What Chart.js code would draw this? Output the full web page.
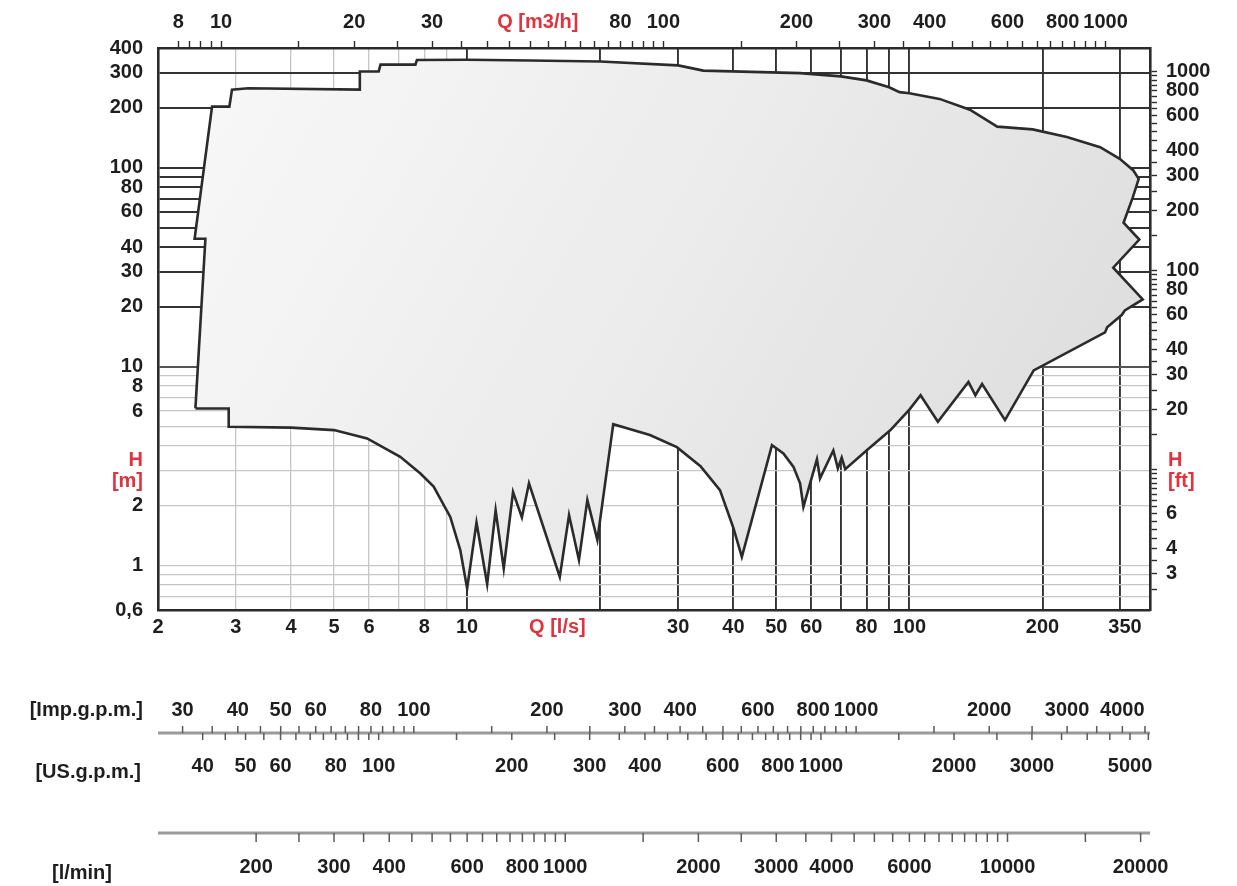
<!DOCTYPE html>
<html>
<head>
<meta charset="utf-8">
<script src="https://cdn.jsdelivr.net/npm/chart.js@4.4.1/dist/chart.umd.min.js"></script>
<style>
  html, body { margin:0; padding:0; background:#fff; }
</style>
</head>
<body>
<canvas id="c" width="1237" height="886"></canvas>
<script>
// envelope of the pump range, Q [l/s] / H [m], traced clockwise
const envQ = [2.43, 2.56, 2.42, 2.65, 2.90, 2.94, 3.20, 5.72, 5.72, 6.31, 6.37, 7.64, 7.70, 10.0, 13.9, 20.0, 30.0, 34.2,
  56.6, 70.0, 80.0, 90.0, 95.0, 100, 117, 137, 158, 190, 227, 270, 299, 321, 330, 320, 305, 331, 289, 337, 307, 302,
  280, 277, 191, 164.5, 146, 141, 136, 116, 106, 100, 90.5, 80, 71.6, 70.3, 68.9, 67.3, 62.8, 61.8, 57.6, 56.6, 54.7,
  51.9, 48.9, 41.8, 40, 37.3, 33.7, 29.8, 25.9, 21.4, 19.7, 18.7, 17.9, 17.0, 16.2, 13.8, 13.3, 12.7, 12.1, 11.6, 11.1,
  10.5, 10.0, 9.65, 9.16, 8.4, 7.84, 7.06, 5.94, 5.0, 4.0, 2.89, 2.89, 2.43];
const envH = [6.18, 44, 44, 203, 203, 247, 251, 247, 305, 305, 330, 330, 348, 349, 346, 342, 327, 308,
  299, 288, 275, 254, 240, 237, 222, 196, 161, 156, 143, 127, 111, 97, 88, 71, 53, 43.6, 31.5, 21.8, 19.2, 18.2,
  15.8, 14.9, 9.6, 5.4, 8.2, 7.2, 8.4, 5.3, 7.2, 6.1, 4.8, 3.8, 3.06, 3.5, 3.09, 3.8, 2.75, 3.43, 1.98, 2.6, 3.14,
  3.67, 4.04, 1.11, 1.55, 2.4, 3.17, 3.95, 4.54, 5.15, 1.35, 2.14, 1.07, 1.8, 0.88, 2.6, 1.75, 2.35, 0.97, 1.9, 0.81,
  1.65, 0.77, 1.2, 1.76, 2.5, 2.91, 3.53, 4.37, 4.81, 4.95, 5.0, 6.18, 6.18];

// main axes
const qTicks = [2,3,4,5,6,7,8,9,10,20,30,40,50,60,70,80,90,100,200,300,350];
const qLabels = [2,3,4,5,6,8,10,30,40,50,60,80,100,200,350];
const qDark = [10,20,30,40,50,60,70,80,90,100,200,300];
const hTicks = [0.6,0.7,0.8,0.9,1,2,3,4,5,6,7,8,9,10,20,30,40,50,60,70,80,90,100,200,300,400];
const hLabels = [0.6,1,2,6,8,10,20,30,40,60,80,100,200,300,400];
const hDark = [20,30,40,50,60,70,80,90,100,200,300];

const m3hTicks = [8,8.5,9,9.5,10,15,20,25,30,35,40,45,50,55,60,65,70,75,80,85,90,95,100,150,200,250,300,350,400,
  450,500,550,600,650,700,750,800,850,900,950,1000];
const m3hLabels = [8,10,20,30,80,100,200,300,400,600,800,1000];
const ftTicks = [2.5,3,3.5,4,4.5,5,5.5,6,6.5,7,7.5,8,8.5,9,9.5,10,15,20,25,30,35,40,45,50,55,60,65,70,75,80,85,90,95,
  100,150,200,250,300,350,400,450,500,550,600,650,700,750,800,850,900,950,1000];
const ftLabels = [3,4,6,20,30,40,60,80,100,200,300,400,600,800,1000];

// flow scales under the chart
const impTicks = [30,35,40,45,50,55,60,65,70,75,80,85,90,95,100,150,200,250,300,350,400,450,500,550,600,650,700,
  750,800,850,900,950,1000,1500,2000,2500,3000,3500,4000,4500];
const impLabels = [30,40,50,60,80,100,200,300,400,600,800,1000,2000,3000,4000];
const usTicks = [40,45,50,55,60,65,70,75,80,85,90,95,100,150,200,250,300,350,400,450,500,550,600,650,700,750,800,
  850,900,950,1000,1500,2000,2500,3000,3500,4000,4500,5000,5500];
const usLabels = [40,50,60,80,100,200,300,400,600,800,1000,2000,3000,5000];
const lminTicks = [200,250,300,350,400,450,500,550,600,650,700,750,800,850,900,950,1000,1500,2000,2500,3000,3500,
  4000,4500,5000,5500,6000,6500,7000,7500,8000,8500,9000,9500,10000,15000,20000];
const lminLabels = [200,300,400,600,800,1000,2000,3000,4000,6000,10000,20000];

const M3H = 3.6, FT = 3.28084, IMP = 13.198, USG = 15.850, LMIN = 60;
const RED = '#e2323c', INK = '#1e1e1e', FONT = '"Liberation Sans", Arial, sans-serif';

Chart.defaults.font.family = FONT;
Chart.defaults.font.size = 20;
Chart.defaults.font.weight = 'bold';
Chart.defaults.color = INK;

const edge = { display: true, color: '#2b2b2b', width: 2.6 };
const clear = 'rgba(0,0,0,0)';

function setTicks(list) {
  return s => { s.ticks = list.map(v => ({ value: v })); };
}

function envFill(ctx) {
  const a = ctx.chart.chartArea;
  if (!a) return '#ececec';
  const g = ctx.chart.ctx.createLinearGradient(a.left, a.top, a.right, a.bottom);
  g.addColorStop(0, '#f9f9f9');
  g.addColorStop(0.5, '#ebebeb');
  g.addColorStop(1, '#dadada');
  return g;
}

function text(ctx, s, x, y, align, color) {
  ctx.fillStyle = color || INK;
  ctx.textAlign = align;
  ctx.textBaseline = 'middle';
  ctx.fillText(s, x, y);
}

// extra unit scales and red axis names
const extras = {
  id: 'extras',
  afterDraw(chart) {
    const ctx = chart.ctx, xs = chart.scales.x, ys = chart.scales.y;
    ctx.save();
    ctx.font = 'bold 20px ' + FONT;
    text(ctx, 'Q [m3/h]', chart.scales.x2.getPixelForValue(52), 22, 'center', RED);
    text(ctx, 'Q [l/s]', xs.getPixelForValue(16), 627, 'center', RED);
    text(ctx, 'H', 143, ys.getPixelForValue(3.4), 'right', RED);
    text(ctx, '[m]', 143, ys.getPixelForValue(2.66), 'right', RED);
    text(ctx, 'H', 1168, ys.getPixelForValue(3.4), 'left', RED);
    text(ctx, '[ft]', 1168, ys.getPixelForValue(2.66), 'left', RED);

    const rows = [
      { ticks: impTicks, labels: impLabels, per: IMP, line: 733, dir: -1, len: 7, ly: 710 },
      { ticks: usTicks, labels: usLabels, per: USG, line: 733, dir: 1, len: 7, ly: 766 },
      { ticks: lminTicks, labels: lminLabels, per: LMIN, line: 833, dir: 1, len: 9, ly: 867 }
    ];
    ctx.strokeStyle = '#9a9a9a';
    ctx.lineWidth = 3;
    [733, 833].forEach(y => {
      ctx.beginPath(); ctx.moveTo(xs.left, y); ctx.lineTo(xs.right, y); ctx.stroke();
    });
    rows.forEach(r => {
      ctx.strokeStyle = '#5a5a5a';
      ctx.lineWidth = 1.5;
      r.ticks.forEach(v => {
        const x = xs.getPixelForValue(v / r.per);
        ctx.beginPath(); ctx.moveTo(x, r.line); ctx.lineTo(x, r.line + r.dir * r.len); ctx.stroke();
      });
      r.labels.forEach(v => text(ctx, String(v), xs.getPixelForValue(v / r.per), r.ly, 'center'));
    });
    text(ctx, '[Imp.g.p.m.]', 143, 710, 'right');
    text(ctx, '[US.g.p.m.]', 141, 772, 'right');
    text(ctx, '[l/min]', 112, 873, 'right');
    ctx.restore();
  }
};

new Chart(document.getElementById('c'), {
  type: 'scatter',
  data: {
    datasets: [{
      data: envQ.map((q, i) => ({ x: q, y: envH[i] })),
      showLine: true,
      fill: 'shape',
      backgroundColor: envFill,
      borderColor: '#2b2b2b',
      borderWidth: 2.6,
      borderJoinStyle: 'miter',
      pointRadius: 0,
      tension: 0
    }]
  },
  options: {
    responsive: false,
    devicePixelRatio: 1,
    animation: false,
    layout: { padding: 0 },
    plugins: { legend: { display: false }, tooltip: { enabled: false } },
    scales: {
      x: {
        type: 'logarithmic', position: 'bottom', min: 2, max: 350,
        afterBuildTicks: setTicks(qTicks),
        afterFit: s => { s.height = 276; },
        border: edge,
        grid: {
          drawTicks: false,
          color: c => c.tick.value === 2 || c.tick.value === 350 ? clear : (qDark.includes(c.tick.value) ? '#333' : '#c6c6c6'),
          lineWidth: c => qDark.includes(c.tick.value) ? 1.9 : 1.3
        },
        ticks: {
          autoSkip: false, maxRotation: 0, padding: 5,
          callback: v => v === 350 ? '350         ' : (qLabels.includes(v) ? String(v) : '')
        }
      },
      y: {
        type: 'logarithmic', position: 'left', min: 0.6, max: 400,
        afterBuildTicks: setTicks(hTicks),
        afterFit: s => { s.width = 158; },
        border: edge,
        grid: {
          drawTicks: false,
          color: c => c.tick.value === 0.6 || c.tick.value === 400 ? clear :
            (hDark.includes(c.tick.value) ? '#333' : (c.tick.value === 10 ? '#555' : '#c6c6c6')),
          lineWidth: c => hDark.includes(c.tick.value) || c.tick.value === 10 ? 1.9 : 1.3
        },
        ticks: {
          autoSkip: false, padding: 15,
          callback: v => v === 0.6 ? '0,6' : (hLabels.includes(v) ? String(v) : '')
        }
      },
      x2: {
        type: 'logarithmic', position: 'top', min: 2 * M3H, max: 350 * M3H,
        afterBuildTicks: setTicks(m3hTicks),
        afterFit: s => { s.height = 48; },
        border: edge,
        grid: { drawOnChartArea: false, tickLength: 7, tickColor: '#2b2b2b', tickWidth: 1.4 },
        ticks: {
          autoSkip: false, maxRotation: 0, padding: 7,
          callback: v => m3hLabels.includes(v) ? String(v) : ''
        }
      },
      y2: {
        type: 'logarithmic', position: 'right', min: 0.6 * FT, max: 400 * FT,
        afterBuildTicks: setTicks(ftTicks),
        afterFit: s => { s.width = 87; },
        border: edge,
        grid: { drawOnChartArea: false, tickLength: 7, tickColor: '#2b2b2b', tickWidth: 1.4 },
        ticks: {
          autoSkip: false, padding: 9,
          callback: v => ftLabels.includes(v) ? String(v) : ''
        }
      }
    }
  },
  plugins: [extras]
});
</script>
</body>
</html>
